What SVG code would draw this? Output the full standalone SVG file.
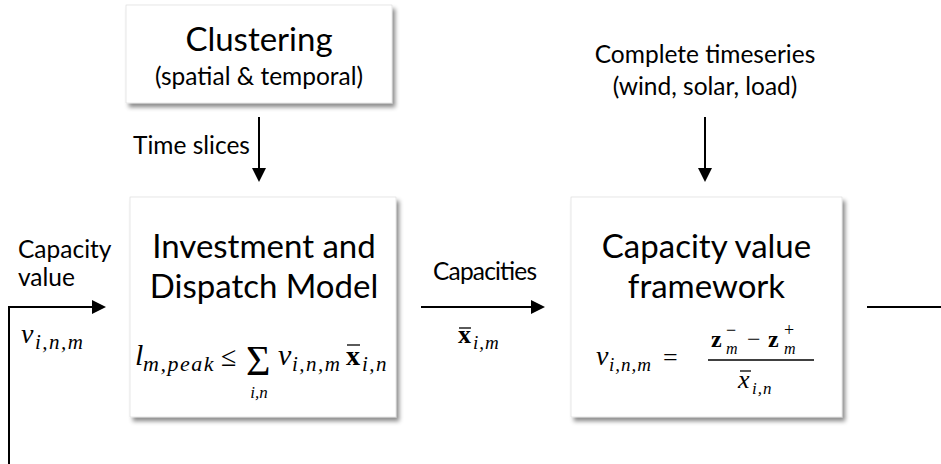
<svg xmlns="http://www.w3.org/2000/svg" width="941" height="464" viewBox="0 0 941 464">
<defs>
<filter id="sh" x="-10%" y="-10%" width="125%" height="130%">
<feDropShadow dx="3" dy="4" stdDeviation="2" flood-color="#000" flood-opacity="0.45"/>
</filter>
<marker id="ah" markerUnits="userSpaceOnUse" markerWidth="16" markerHeight="14" refX="2" refY="7" orient="auto">
<path d="M0,0 L14,7 L0,14 z" fill="#000"/>
</marker>
</defs>
<style>
.box{fill:#fff;stroke:#d8d8d8;stroke-width:0.6;filter:url(#sh)}
.lbl{font-family:Lato,"Liberation Sans",sans-serif;font-size:24.5px;fill:#000}
.ttl{font-family:Lato,"Liberation Sans",sans-serif;font-size:33px;fill:#000;text-anchor:middle}
.sub{font-family:Lato,"Liberation Sans",sans-serif;font-size:24.5px;fill:#000;text-anchor:middle}
.m{font-family:"Liberation Serif","DejaVu Serif",serif;font-style:italic;fill:#000}
.s{letter-spacing:1.5px}
.mb{font-family:"Liberation Serif","DejaVu Serif",serif;font-weight:bold;fill:#000}
.mr{font-family:"Liberation Serif","DejaVu Serif",serif;fill:#000}
.c{stroke:#000;stroke-width:2;fill:none}
.bar{stroke:#000;stroke-width:1.3}
</style>

<g id="clustering">
<rect class="box" x="126" y="5" width="266" height="98"/>
<text class="ttl" x="259" y="51" font-size="32">Clustering</text>
<text class="sub" x="259" y="85">(spatial &amp; temporal)</text>
</g>

<g id="timeseries">
<text class="sub" x="705" y="63">Complete timeseries</text>
<text class="sub" x="705" y="95">(wind, solar, load)</text>
</g>

<g id="investment">
<rect class="box" x="130" y="197" width="266" height="220"/>
<text class="ttl" x="264" y="258">Investment and</text>
<text class="ttl" x="264" y="298">Dispatch Model</text>
<text class="m" x="135" y="365" font-size="30">l</text>
<text class="m s" x="143" y="371" font-size="22">m,peak</text>
<text class="mr" x="221" y="366" font-size="28">≤</text>
<text class="mr" x="246" y="375" font-size="42">Σ</text>
<text class="m" x="259" y="398" font-size="17" text-anchor="middle">i,n</text>
<text class="m" x="278" y="365" font-size="30">v</text>
<text class="m s" x="292" y="371" font-size="21">i,n,m</text>
<text class="mb" x="346" y="365" font-size="28">x</text>
<line class="bar" x1="347" y1="345" x2="360" y2="345"/>
<text class="m s" x="362" y="371" font-size="21">i,n</text>
</g>

<g id="capacity-value">
<rect class="box" x="571" y="197" width="271" height="220"/>
<text class="ttl" x="706.5" y="258">Capacity value</text>
<text class="ttl" x="706.5" y="298">framework</text>
<text class="m" x="596" y="365" font-size="28">v</text>
<text class="m" x="609" y="371" font-size="19" letter-spacing="1">i,n,m</text>
<text class="mr" x="663" y="366" font-size="26">=</text>
<line class="bar" x1="708" y1="360" x2="814" y2="360"/>
<text class="mb" x="711" y="347" font-size="24">z</text>
<text class="mr" x="726" y="336" font-size="18">−</text>
<text class="m" x="726" y="354" font-size="16">m</text>
<text class="mr" x="747" y="347" font-size="24">−</text>
<text class="mb" x="768" y="347" font-size="24">z</text>
<text class="mr" x="784" y="336" font-size="18">+</text>
<text class="m" x="784" y="354" font-size="16">m</text>
<text class="m" x="738" y="388" font-size="26">x</text>
<line class="bar" x1="740" y1="371" x2="751" y2="371"/>
<text class="m" x="752" y="394" font-size="17" letter-spacing="1">i,n</text>
</g>

<g id="labels">
<text class="lbl" x="433" y="280" textLength="104">Capacities</text>
<text class="mb" x="458" y="343" font-size="26">x</text>
<line class="bar" x1="459" y1="328" x2="471" y2="328"/>
<text class="m" x="473" y="349" font-size="19" letter-spacing="1">i,m</text>
<text class="lbl" x="133" y="154">Time slices</text>
<text class="lbl" x="18" y="258">Capacity</text>
<text class="lbl" x="18" y="286">value</text>
<text class="m" x="21" y="343" font-size="28">v</text>
<text class="m s" x="35" y="349" font-size="21">i,n,m</text>
</g>

<g id="connectors">
<line class="c" x1="259" y1="117" x2="259" y2="170" marker-end="url(#ah)"/>
<line class="c" x1="705" y1="117" x2="705" y2="170" marker-end="url(#ah)"/>
<line class="c" x1="421" y1="307" x2="533" y2="307" marker-end="url(#ah)"/>
<polyline class="c" points="9,464 9,307 94,307" marker-end="url(#ah)"/>
<line class="c" x1="867" y1="307" x2="941" y2="307"/>
</g>
</svg>
